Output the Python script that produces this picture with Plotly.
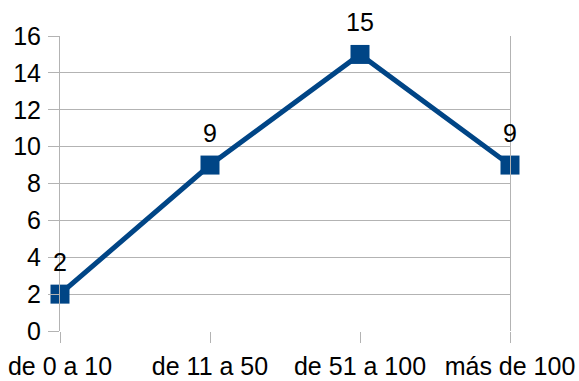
import plotly.graph_objects as go

categories = ["de 0 a 10", "de 11 a 50", "de 51 a 100", "más de 100"]
values = [2, 9, 15, 9]
y_ticks = list(range(0, 17, 2))

positions = list(range(len(categories)))
grid = "#b3b3b3"
font = dict(family="Liberation Sans, Arial, sans-serif", size=25, color="#000000")

fig = go.Figure()
fig.add_trace(go.Scatter(
    x=positions, y=values,
    mode="lines+markers",
    line=dict(color="#004586", width=5),
    marker=dict(symbol="square", size=19, color="#004586"),
    cliponaxis=False,
    showlegend=False,
))

# value labels above each point
for xp, v in zip(positions, values):
    fig.add_annotation(
        x=xp, y=v, text=str(v), showarrow=False,
        yshift=32, yanchor="middle", xanchor="center", font=font,
    )

fig.update_layout(
    width=579, height=381,
    margin=dict(l=60, r=69, t=36, b=50, autoexpand=False),
    paper_bgcolor="white", plot_bgcolor="white",
    font=font,
    xaxis=dict(
        range=[0, len(categories) - 1],
        tickvals=positions, ticktext=categories,
        showgrid=False, zeroline=False, showline=False,
        ticks="outside", ticklen=11, tickcolor=grid, tickwidth=1,
        ticklabelstandoff=2, automargin=False,
    ),
    yaxis=dict(
        range=[0, 16],
        tickvals=y_ticks,
        showgrid=True, gridcolor=grid, gridwidth=1,
        zeroline=False,
        showline=True, mirror=True, linecolor=grid, linewidth=1,
        ticks="outside", ticklen=11, tickcolor=grid, tickwidth=1,
        ticklabelstandoff=2, automargin=False,
    ),
)

fig.write_html("out.html")
